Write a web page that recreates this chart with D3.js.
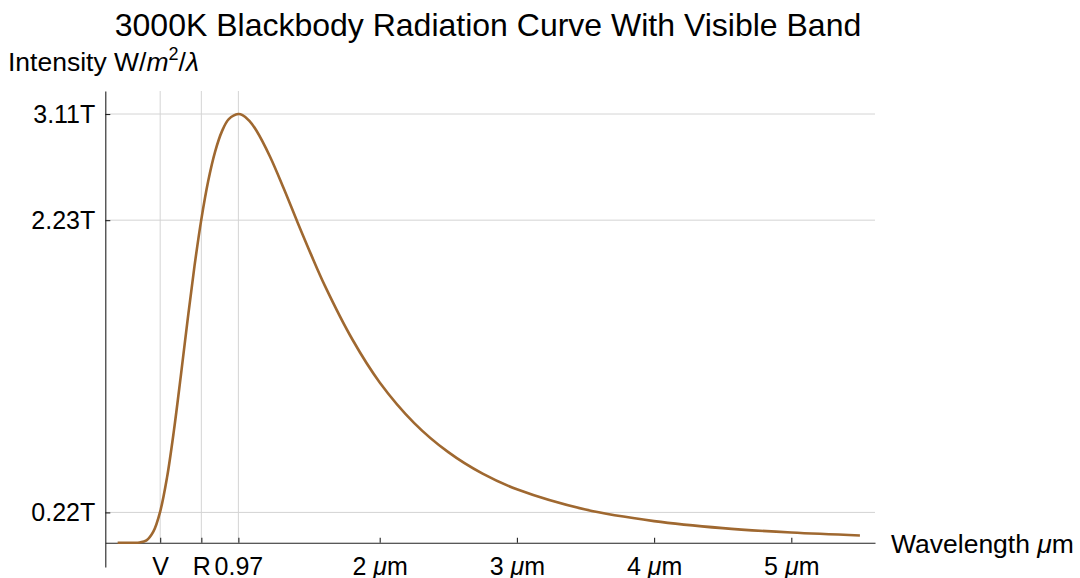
<!DOCTYPE html>
<html>
<head>
<meta charset="utf-8">
<script src="https://cdn.jsdelivr.net/npm/d3@7"></script>
<style>
  body { margin: 0; background: #fff; }
  text { font-family: 'Liberation Sans', Arial, sans-serif; fill: #000; }
</style>
</head>
<body>
<script>
// wavelength in µm, intensity in T (1e12 W/m²/λ)
const wavelengths = [0.09, 0.2, 0.25, 0.3, 0.35, 0.4, 0.45, 0.5, 0.55, 0.6, 0.65, 0.7, 0.75, 0.8, 0.85, 0.9, 0.97, 1.0, 1.05, 1.1, 1.2, 1.3, 1.4, 1.5, 1.6, 1.8, 2.0, 2.25, 2.5, 2.75, 3.0, 3.5, 4.0, 4.5, 5.0, 5.5];
const intensities = [0, 0, 0.002, 0.017, 0.080, 0.226, 0.474, 0.813, 1.207, 1.617, 2.006, 2.346, 2.624, 2.836, 2.984, 3.073, 3.110, 3.102, 3.061, 2.992, 2.802, 2.571, 2.327, 2.090, 1.865, 1.476, 1.163, 0.870, 0.657, 0.501, 0.388, 0.241, 0.157, 0.106, 0.074, 0.053];

const xTickValues = [0.4, 0.7, 0.97, 2, 3, 4, 5];
const xTickLabels = ['V', 'R', '0.97', '2 μm', '3 μm', '4 μm', '5 μm'];
const xGridValues = [0.4, 0.7, 0.97];

const yTickValues = [0.22, 2.34, 3.11];
const yTickLabels = ['0.22T', '2.23T', '3.11T'];

const width = 1080;
const height = 578;

const x = d3.scaleLinear().domain([0, 5.61]).range([105.3, 875]);
const y = d3.scaleLinear().domain([-0.176, 3.277]).range([567, 91]);

const svg = d3.select('body').append('svg')
  .attr('width', width)
  .attr('height', height);

// grid
svg.append('g')
  .selectAll('line')
  .data(xGridValues)
  .join('line')
    .attr('x1', d => x(d)).attr('x2', d => x(d))
    .attr('y1', y(3.277)).attr('y2', y(0))
    .attr('stroke', '#d4d4d4')
    .attr('stroke-width', 1);

svg.append('g')
  .selectAll('line')
  .data(yTickValues)
  .join('line')
    .attr('x1', x(0)).attr('x2', x(5.61))
    .attr('y1', d => y(d)).attr('y2', d => y(d))
    .attr('stroke', '#d4d4d4')
    .attr('stroke-width', 1);

// axes
const xAxis = d3.axisBottom(x)
  .tickValues(xTickValues)
  .tickFormat((d, i) => xTickLabels[i])
  .tickSizeInner(-5)
  .tickSizeOuter(0)
  .tickPadding(15);

const yAxis = d3.axisLeft(y)
  .tickValues(yTickValues)
  .tickFormat((d, i) => yTickLabels[i])
  .tickSizeInner(-5)
  .tickSizeOuter(0)
  .tickPadding(10);

const gx = svg.append('g')
  .attr('transform', `translate(0,${y(0)})`)
  .call(xAxis);

const gy = svg.append('g')
  .attr('transform', `translate(${x(0)},0)`)
  .call(yAxis);

[gx, gy].forEach(g => {
  g.selectAll('path, line').attr('stroke', '#222').attr('stroke-width', 1.1);
  g.selectAll('text').attr('font-size', 25).attr('font-family', "'Liberation Sans', Arial, sans-serif").attr('fill', '#000');
});

// italic µ in tick labels
gx.selectAll('.tick text').each(function (d, i) {
  const label = xTickLabels[i];
  if (label.indexOf('μ') >= 0) {
    const t = d3.select(this).text(null);
    t.append('tspan').text(label.split('μ')[0]);
    t.append('tspan').attr('font-style', 'italic').text('μ');
    t.append('tspan').text(label.split('μ')[1]);
  }
});

// curve
const points = wavelengths.map((w, i) => [w, intensities[i]]);
svg.append('path')
  .datum(points)
  .attr('fill', 'none')
  .attr('stroke', '#9f6830')
  .attr('stroke-width', 2.6)
  .attr('d', d3.line()
    .x(d => x(d[0]))
    .y(d => y(d[1]))
    .curve(d3.curveCatmullRom));

// title
svg.append('text')
  .attr('x', 488)
  .attr('y', 36)
  .attr('text-anchor', 'middle')
  .attr('font-size', 32)
  .text('3000K Blackbody Radiation Curve With Visible Band');

// axis labels
const yl = svg.append('text')
  .attr('x', 8)
  .attr('y', 71)
  .attr('font-size', 26.5);
yl.append('tspan').text('Intensity W/');
yl.append('tspan').attr('font-style', 'italic').text('m');
yl.append('tspan').attr('font-size', 18).attr('dy', -11).text('2');
yl.append('tspan').attr('dy', 11).text('/');
yl.append('tspan').attr('font-style', 'italic').text('λ');

const xl = svg.append('text')
  .attr('x', 891)
  .attr('y', 553)
  .attr('font-size', 26.5);
xl.append('tspan').text('Wavelength ');
xl.append('tspan').attr('font-style', 'italic').text('μ');
xl.append('tspan').text('m');
</script>
</body>
</html>
